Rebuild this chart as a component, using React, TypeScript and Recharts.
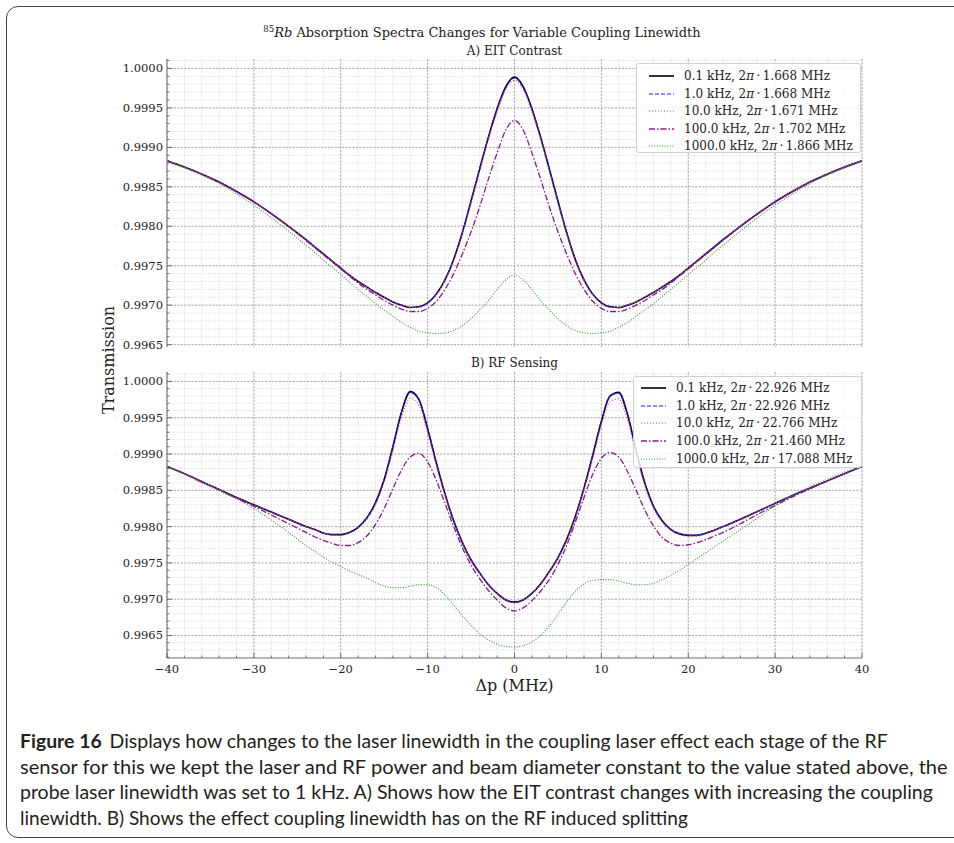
import React, { useLayoutEffect, useRef } from "react";
import { LineChart, Line, XAxis, YAxis, CartesianGrid } from "recharts";

// probe detuning in MHz (finer sampling where the features are)
const detuning = [
  -40, -38, -36, -34, -32, -30, -28, -26, -24,
  -23, -22, -21, -20, -19, -18, -17, -16, -15, -14, -13, -12, -11, -10, -9, -8, -7, -6, -5, -4, -3, -2, -1,
  0,
  1, 2, 3, 4, 5, 6, 7, 8, 9, 10, 11, 12, 13, 14, 15, 16, 17, 18, 19, 20, 21, 22, 23,
  24, 26, 28, 30, 32, 34, 36, 38, 40,
];

// A) EIT contrast
const eit01 = [
  0.99883, 0.99875, 0.99866, 0.99856, 0.99844, 0.99831, 0.99816, 0.998, 0.99783,
  0.99774, 0.99765, 0.99756, 0.99747, 0.99738, 0.9973, 0.99723, 0.99716, 0.9971, 0.99704, 0.997, 0.99697, 0.99698, 0.99703, 0.99714, 0.99732, 0.99758, 0.99792, 0.99832, 0.99873, 0.99913, 0.99949, 0.99977,
  0.99989,
  0.99977, 0.99949, 0.99913, 0.99873, 0.99832, 0.99792, 0.99758, 0.99732, 0.99714, 0.99703, 0.99698, 0.99697, 0.997, 0.99704, 0.9971, 0.99716, 0.99723, 0.9973, 0.99738, 0.99747, 0.99756, 0.99765, 0.99774,
  0.99783, 0.998, 0.99816, 0.99831, 0.99844, 0.99856, 0.99866, 0.99875, 0.99883,
];
const eit1 = [
  0.99883, 0.99875, 0.99866, 0.99856, 0.99844, 0.99831, 0.99816, 0.998, 0.99783,
  0.99774, 0.99765, 0.99756, 0.99747, 0.99738, 0.9973, 0.99723, 0.99716, 0.9971, 0.99704, 0.997, 0.99697, 0.99698, 0.99703, 0.99714, 0.99732, 0.99758, 0.99792, 0.99832, 0.99873, 0.99913, 0.99949, 0.99976,
  0.99988,
  0.99976, 0.99949, 0.99913, 0.99873, 0.99832, 0.99792, 0.99758, 0.99732, 0.99714, 0.99703, 0.99698, 0.99697, 0.997, 0.99704, 0.9971, 0.99716, 0.99723, 0.9973, 0.99738, 0.99747, 0.99756, 0.99765, 0.99774,
  0.99783, 0.998, 0.99816, 0.99831, 0.99844, 0.99856, 0.99866, 0.99875, 0.99883,
];
const eit10 = [
  0.99883, 0.99875, 0.99866, 0.99856, 0.99844, 0.99831, 0.99816, 0.998, 0.99783,
  0.99774, 0.99765, 0.99756, 0.99747, 0.99738, 0.9973, 0.99723, 0.99716, 0.9971, 0.99704, 0.997, 0.99697, 0.99697, 0.99702, 0.99713, 0.99731, 0.99756, 0.9979, 0.99829, 0.9987, 0.9991, 0.99945, 0.99973,
  0.99985,
  0.99973, 0.99945, 0.9991, 0.9987, 0.99829, 0.9979, 0.99756, 0.99731, 0.99713, 0.99702, 0.99697, 0.99697, 0.997, 0.99704, 0.9971, 0.99716, 0.99723, 0.9973, 0.99738, 0.99747, 0.99756, 0.99765, 0.99774,
  0.99783, 0.998, 0.99816, 0.99831, 0.99844, 0.99856, 0.99866, 0.99875, 0.99883,
];
const eit100 = [
  0.99883, 0.99875, 0.99866, 0.99856, 0.99844, 0.99831, 0.99816, 0.998, 0.99782,
  0.99773, 0.99764, 0.99755, 0.99746, 0.99737, 0.99728, 0.9972, 0.99713, 0.99706, 0.997, 0.99695, 0.99692, 0.99692, 0.99696, 0.99705, 0.9972, 0.9974, 0.99765, 0.99793, 0.99825, 0.9986, 0.99893, 0.99922,
  0.99934,
  0.99922, 0.99893, 0.9986, 0.99825, 0.99793, 0.99765, 0.9974, 0.9972, 0.99705, 0.99696, 0.99692, 0.99692, 0.99695, 0.997, 0.99706, 0.99713, 0.9972, 0.99728, 0.99737, 0.99746, 0.99755, 0.99764, 0.99773,
  0.99782, 0.998, 0.99816, 0.99831, 0.99844, 0.99856, 0.99866, 0.99875, 0.99883,
];
const eit1000 = [
  0.99883, 0.99874, 0.99865, 0.99854, 0.99841, 0.99827, 0.99811, 0.99794, 0.99776,
  0.99767, 0.99757, 0.99748, 0.99739, 0.99729, 0.9972, 0.99711, 0.99702, 0.99694, 0.99686, 0.99678, 0.99672, 0.99667, 0.99665, 0.99664, 0.99665, 0.99668, 0.99674, 0.99683, 0.99694, 0.99706, 0.9972, 0.99732,
  0.99738,
  0.99732, 0.9972, 0.99706, 0.99694, 0.99683, 0.99674, 0.99668, 0.99665, 0.99664, 0.99665, 0.99667, 0.99672, 0.99678, 0.99686, 0.99694, 0.99702, 0.99711, 0.9972, 0.99729, 0.99739, 0.99748, 0.99757, 0.99767,
  0.99776, 0.99794, 0.99811, 0.99827, 0.99841, 0.99854, 0.99865, 0.99874, 0.99883,
];

// B) RF sensing
const rf01 = [
  0.99883, 0.99873, 0.99862, 0.99851, 0.9984, 0.9983, 0.9982, 0.9981, 0.998,
  0.99796, 0.99791, 0.99789, 0.99789, 0.99792, 0.99799, 0.99812, 0.99833, 0.99865, 0.9991, 0.99958, 0.99986, 0.99975, 0.99935, 0.99888, 0.99845, 0.99808, 0.99778, 0.99754, 0.99736, 0.9972, 0.99708, 0.99699,
  0.99696,
  0.99699, 0.99708, 0.99721, 0.99738, 0.99757, 0.99782, 0.99814, 0.99853, 0.99898, 0.99945, 0.9998, 0.99985, 0.99955, 0.99905, 0.9986, 0.99828, 0.99808, 0.99796, 0.9979, 0.99788, 0.99788, 0.99791, 0.99795,
  0.998, 0.9981, 0.99821, 0.99832, 0.99843, 0.99853, 0.99863, 0.99873, 0.99883,
];
const rf1 = [
  0.99883, 0.99873, 0.99862, 0.99851, 0.9984, 0.9983, 0.9982, 0.9981, 0.998,
  0.99796, 0.99791, 0.99789, 0.99789, 0.99792, 0.99799, 0.99812, 0.99833, 0.99865, 0.9991, 0.99958, 0.99985, 0.99975, 0.99935, 0.99888, 0.99845, 0.99808, 0.99778, 0.99754, 0.99736, 0.9972, 0.99708, 0.99699,
  0.99696,
  0.99699, 0.99708, 0.99721, 0.99738, 0.99757, 0.99782, 0.99814, 0.99853, 0.99898, 0.99945, 0.9998, 0.99984, 0.99955, 0.99905, 0.9986, 0.99828, 0.99808, 0.99796, 0.9979, 0.99788, 0.99788, 0.99791, 0.99795,
  0.998, 0.9981, 0.99821, 0.99832, 0.99843, 0.99853, 0.99863, 0.99873, 0.99883,
];
const rf10 = [
  0.99883, 0.99873, 0.99862, 0.99851, 0.9984, 0.9983, 0.9982, 0.9981, 0.998,
  0.99796, 0.99791, 0.99788, 0.99788, 0.99791, 0.99798, 0.9981, 0.9983, 0.99861, 0.99904, 0.9995, 0.99977, 0.99967, 0.99928, 0.99883, 0.99842, 0.99806, 0.99777, 0.99753, 0.99735, 0.9972, 0.99708, 0.99699,
  0.99695,
  0.99699, 0.99708, 0.9972, 0.99737, 0.99756, 0.9978, 0.99811, 0.9985, 0.99893, 0.99939, 0.99972, 0.99976, 0.99947, 0.99899, 0.99856, 0.99825, 0.99806, 0.99795, 0.99789, 0.99787, 0.99787, 0.9979, 0.99795,
  0.998, 0.9981, 0.99821, 0.99832, 0.99843, 0.99853, 0.99863, 0.99873, 0.99883,
];
const rf100 = [
  0.99883, 0.99873, 0.99862, 0.99851, 0.99839, 0.99828, 0.99816, 0.99804, 0.99792,
  0.99786, 0.99781, 0.99777, 0.99774, 0.99774, 0.99778, 0.99787, 0.99803, 0.99825, 0.99852, 0.99878, 0.99896, 0.99901, 0.99889, 0.99864, 0.99832, 0.998, 0.99771, 0.99747, 0.99728, 0.99712, 0.99699, 0.99688,
  0.99684,
  0.99688, 0.99698, 0.99711, 0.99727, 0.99748, 0.99774, 0.99806, 0.9984, 0.99872, 0.99894, 0.99902, 0.99896, 0.99876, 0.9985, 0.99823, 0.99801, 0.99785, 0.99777, 0.99774, 0.99775, 0.99778, 0.99782, 0.99787,
  0.99792, 0.99804, 0.99817, 0.99829, 0.99841, 0.99852, 0.99863, 0.99873, 0.99883,
];
const rf1000 = [
  0.99883, 0.99872, 0.9986, 0.99849, 0.99838, 0.99825, 0.99809, 0.99792, 0.99774,
  0.99766, 0.99758, 0.99751, 0.99745, 0.99739, 0.99734, 0.99729, 0.99723, 0.99718, 0.99716, 0.99716, 0.99718, 0.9972, 0.9972, 0.99716, 0.99706, 0.99692, 0.99677, 0.99664, 0.99652, 0.99644, 0.99638, 0.99635,
  0.99634,
  0.99636, 0.99641, 0.9965, 0.99663, 0.99679, 0.99696, 0.99711, 0.99721, 0.99726, 0.99727, 0.99727, 0.99725, 0.99722, 0.9972, 0.9972, 0.99722, 0.99727, 0.99733, 0.9974, 0.99748, 0.99756, 0.99764, 0.99772,
  0.9978, 0.99796, 0.99812, 0.99829, 0.99843, 0.99855, 0.99865, 0.99875, 0.99883,
];

const linewidths = ["0.1", "1.0", "10.0", "100.0", "1000.0"];
const eitRabi = ["1.668", "1.668", "1.671", "1.702", "1.866"];
const rfRabi = ["22.926", "22.926", "22.766", "21.460", "17.088"];

const xMajor = [-40, -30, -20, -10, 0, 10, 20, 30, 40];
const yMajor = [0.9965, 0.997, 0.9975, 0.998, 0.9985, 0.999, 0.9995, 1.0];

const SERIF = "'DejaVu Serif', serif";
const TXT = "#222";

const lineStyles = [
  { color: "#000000", dash: undefined as string | undefined, width: 1.6 },
  { color: "#1a1aff", dash: "4 2", width: 1.2 },
  { color: "#ff4040", dash: "1 2", width: 1.1 },
  { color: "#8b1a8b", dash: "6 2 1.5 2", width: 1.3 },
  { color: "#2f9e2f", dash: "1 1.6", width: 1.1 },
];

function steps(from: number, to: number, step: number, digits: number) {
  const out: number[] = [];
  const n = Math.round((to - from) / step);
  for (let i = 0; i <= n; i++) out.push(Number((from + i * step).toFixed(digits)));
  return out;
}

const xMinor = steps(-40, 40, 2, 0);

const fmtX = (v: number) => (v < 0 ? "\u2212" + Math.abs(v) : String(v));
const isMajorY = (v: number) => Math.round(v * 10000) % 5 === 0;

function BottomTick(props: any) {
  const { x, y, payload, showLabel } = props;
  const major = Math.abs(payload.value) % 10 === 0;
  return (
    <g>
      <line x1={x} x2={x} y1={y} y2={y - (major ? 5 : 2.5)} stroke="#555" strokeWidth={0.8} />
      {showLabel && major ? (
        <text x={x} y={y + 15} textAnchor="middle" fontFamily={SERIF} fontSize={11.5} fill={TXT}>
          {fmtX(payload.value)}
        </text>
      ) : null}
    </g>
  );
}
function TopTick(props: any) {
  const { x, y, payload } = props;
  const major = Math.abs(payload.value) % 10 === 0;
  return <line x1={x} x2={x} y1={y} y2={y + (major ? 5 : 2.5)} stroke="#555" strokeWidth={0.8} />;
}
function LeftTick(props: any) {
  const { x, y, payload } = props;
  const major = isMajorY(payload.value);
  return (
    <g>
      <line x1={x} x2={x + (major ? 5 : 2.5)} y1={y} y2={y} stroke="#555" strokeWidth={0.8} />
      {major ? (
        <text x={x - 4} y={y + 4} textAnchor="end" fontFamily={SERIF} fontSize={11.5} fill={TXT}>
          {payload.value.toFixed(4)}
        </text>
      ) : null}
    </g>
  );
}
function RightTick(props: any) {
  const { x, y, payload } = props;
  const major = isMajorY(payload.value);
  return <line x1={x} x2={x - (major ? 5 : 2.5)} y1={y} y2={y} stroke="#555" strokeWidth={0.8} />;
}

function Panel(props: {
  series: number[][];
  yDomain: [number, number];
  top: number;
  height: number;
  margin: { top: number; bottom: number };
  xAxisHeight: number;
  showXLabels: boolean;
}) {
  const { series, yDomain, top, height, margin, xAxisHeight, showXLabels } = props;
  const rows = detuning.map((x, i) => ({
    x,
    s0: series[0][i],
    s1: series[1][i],
    s2: series[2][i],
    s3: series[3][i],
    s4: series[4][i],
  }));
  const yMinor = steps(Math.ceil(yDomain[0] * 10000) / 10000, Math.floor(yDomain[1] * 10000) / 10000, 0.0001, 4);
  const yMaj = yMajor.filter((v) => v >= yDomain[0] && v <= yDomain[1]);
  return (
    <LineChart
      width={954}
      height={height}
      data={rows}
      margin={{ top: margin.top, right: 92, bottom: margin.bottom, left: 97 }}
      style={{ position: "absolute", left: 0, top }}
    >
      <CartesianGrid horizontalValues={yMinor} verticalValues={xMinor} stroke="#d2d2d2" strokeDasharray="1.2 1.2" strokeWidth={0.7} />
      <CartesianGrid horizontalValues={yMaj} verticalValues={xMajor} stroke="#9a9a9a" strokeDasharray="2 1.5" strokeWidth={0.8} />
      <XAxis
        dataKey="x"
        type="number"
        domain={[-40, 40]}
        ticks={xMinor}
        interval={0}
        height={xAxisHeight}
        tickSize={0}
        tickMargin={0}
        allowDataOverflow
        axisLine={{ stroke: "#777" }}
        tick={(p: any) => <BottomTick {...p} showLabel={showXLabels} />}
      />
      <XAxis
        xAxisId="top"
        orientation="top"
        dataKey="x"
        type="number"
        domain={[-40, 40]}
        ticks={xMinor}
        interval={0}
        height={0}
        tickSize={0}
        tickMargin={0}
        allowDataOverflow
        axisLine={{ stroke: "#777" }}
        tick={(p: any) => <TopTick {...p} />}
      />
      <YAxis
        type="number"
        domain={yDomain}
        ticks={yMinor}
        interval={0}
        width={70}
        tickSize={0}
        tickMargin={0}
        allowDataOverflow
        axisLine={{ stroke: "#777" }}
        tick={(p: any) => <LeftTick {...p} />}
      />
      <YAxis
        yAxisId="right"
        orientation="right"
        type="number"
        domain={yDomain}
        ticks={yMinor}
        interval={0}
        width={0}
        tickSize={0}
        tickMargin={0}
        allowDataOverflow
        axisLine={{ stroke: "#777" }}
        tick={(p: any) => <RightTick {...p} />}
      />
      {lineStyles.map((st, i) => (
        <Line
          key={i}
          type="monotone"
          dataKey={"s" + i}
          stroke={st.color}
          strokeWidth={st.width}
          strokeDasharray={st.dash}
          dot={false}
          activeDot={false}
          isAnimationActive={false}
        />
      ))}
    </LineChart>
  );
}

function LegendBox(props: { left: number; top: number; width: number; height: number; rabi: string[]; sampleLeft: number; textLeft: number; rowTop: number; rowStep: number }) {
  const { left, top, width, height, rabi, sampleLeft, textLeft, rowTop, rowStep } = props;
  return (
    <div
      style={{
        position: "absolute",
        left,
        top,
        width,
        height,
        boxSizing: "border-box",
        border: "1px solid #d0d0d0",
        borderRadius: 3,
        background: "rgba(255,255,255,0.82)",
      }}
    >
      {linewidths.map((lw, i) => {
        const st = lineStyles[i];
        const cy = rowTop + i * rowStep - top;
        return (
          <div key={i}>
            <svg style={{ position: "absolute", left: sampleLeft - left, top: cy - 4 }} width={26} height={8}>
              <line x1={0} x2={25} y1={4} y2={4} stroke={st.color} strokeWidth={st.width} strokeDasharray={st.dash} />
            </svg>
            <div
              style={{
                position: "absolute",
                left: textLeft - left,
                top: cy - 8,
                height: 16,
                lineHeight: "16px",
                fontFamily: SERIF,
                fontSize: 12,
                color: TXT,
                whiteSpace: "nowrap",
              }}
            >
              {lw} kHz, 2<i>π</i>{"\u2009·\u2009"}{rabi[i]} MHz
            </div>
          </div>
        );
      })}
    </div>
  );
}

const captionLines = [
  "Displays how changes to the laser linewidth in the coupling laser effect each stage of the RF",
  "sensor for this we kept the laser and RF power and beam diameter constant to the value stated above, the",
  "probe laser linewidth was set to 1 kHz. A) Shows how the EIT contrast changes with increasing the coupling",
  "linewidth. B) Shows the effect coupling linewidth has on the RF induced splitting",
];
// right edge of each caption line in the reference (px)
const captionEnds = [888, 948, 933, 688];

function Caption() {
  const refs = useRef<(HTMLDivElement | null)[]>([]);
  useLayoutEffect(() => {
    refs.current.forEach((el, i) => {
      if (!el) return;
      const w = el.scrollWidth;
      const target = captionEnds[i] - 20;
      if (w > 0) el.style.transform = `scaleX(${target / w})`;
    });
  }, []);
  return (
    <>
      {captionLines.map((line, i) => (
        <div
          key={i}
          ref={(el) => {
            refs.current[i] = el;
          }}
          style={{
            position: "absolute",
            left: 20,
            top: 728 + i * 25.7,
            lineHeight: "26px",
            whiteSpace: "nowrap",
            fontFamily: "Lato, 'Open Sans', sans-serif",
            fontSize: 19.5,
            color: "#231f20",
            transformOrigin: "0 50%",
          }}
        >
          {i === 0 ? <b style={{ marginRight: 8 }}>Figure 16</b> : null}
          {line}
        </div>
      ))}
    </>
  );
}

export default function App() {
  return (
    <div style={{ position: "absolute", left: 0, top: 0, width: 954, height: 843, overflow: "hidden", background: "#fff" }}>
      <div
        style={{
          position: "absolute",
          left: 6,
          top: 6,
          width: 1000,
          height: 832,
          boxSizing: "border-box",
          border: "1.5px solid #444",
          borderRadius: 12,
        }}
      />
      <div style={{ position: "absolute", left: 0, width: 964, top: 24, textAlign: "center", fontFamily: SERIF, fontSize: 13, color: TXT, whiteSpace: "nowrap" }}>
        <sup style={{ fontSize: 8.5 }}>85</sup>
        <i>Rb</i> Absorption Spectra Changes for Variable Coupling Linewidth
      </div>
      <div style={{ position: "absolute", left: 167, width: 695, top: 44, textAlign: "center", fontFamily: SERIF, fontSize: 12, color: TXT }}>
        A) EIT Contrast
      </div>
      <div style={{ position: "absolute", left: 167, width: 695, top: 356, textAlign: "center", fontFamily: SERIF, fontSize: 12, color: TXT }}>
        B) RF Sensing
      </div>

      <Panel series={[eit01, eit1, eit10, eit100, eit1000]} yDomain={[0.99647, 1.00012]} top={0} height={360} margin={{ top: 59, bottom: 13 }} xAxisHeight={0} showXLabels={false} />
      <Panel series={[rf01, rf1, rf10, rf100, rf1000]} yDomain={[0.99619, 1.00013]} top={360} height={340} margin={{ top: 12, bottom: 12 }} xAxisHeight={30} showXLabels={true} />

      <LegendBox left={636} top={63} width={225} height={90} rabi={eitRabi} sampleLeft={648} textLeft={683} rowTop={75} rowStep={17.5} />
      <LegendBox left={633} top={376} width={229} height={92} rabi={rfRabi} sampleLeft={640} textLeft={675} rowTop={387} rowStep={17.7} />

      <div
        style={{
          position: "absolute",
          left: 108,
          top: 360,
          transform: "translate(-50%, -50%) rotate(-90deg)",
          fontFamily: SERIF,
          fontSize: 16,
          color: TXT,
          whiteSpace: "nowrap",
        }}
      >
        Transmission
      </div>
      <div style={{ position: "absolute", left: 167, width: 695, top: 676, textAlign: "center", fontFamily: SERIF, fontSize: 16, color: TXT }}>
        Δp (MHz)
      </div>

      <Caption />
    </div>
  );
}
